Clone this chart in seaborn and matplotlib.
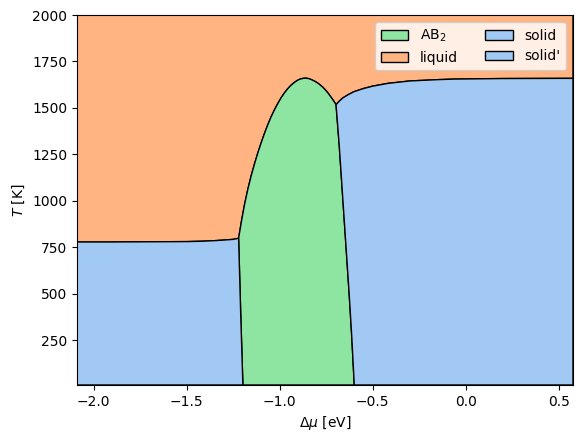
import matplotlib
matplotlib.use("Agg")
import numpy as np
import matplotlib.pyplot as plt
import seaborn as sns

# phase boundaries (dmu in eV, T in K)
x_min, x_max = -2.09, 0.577
t_min, t_max = 8, 2000

# solid / liquid line on the left
left_dmu = [-2.09, -1.9, -1.7, -1.5, -1.42, -1.35, -1.29, -1.25, -1.221]
left_T = [778, 778, 779, 780, 782, 785, 789, 792, 798]

# AB2 / liquid dome (left flank -> peak -> right triple point)
dome_dmu = [-1.221, -1.205, -1.189, -1.171, -1.153, -1.135, -1.118, -1.100,
            -1.082, -1.064, -1.046, -1.028, -1.010, -0.992, -0.975, -0.957,
            -0.939, -0.921, -0.905, -0.890, -0.874, -0.858,
            -0.842, -0.827, -0.811, -0.796, -0.782, -0.768, -0.755, -0.742,
            -0.730, -0.718, -0.707, -0.697]
dome_T = [798, 893, 980, 1063, 1136, 1200, 1256, 1311,
          1362, 1409, 1452, 1490, 1524, 1555, 1580, 1603,
          1622, 1637, 1648, 1655, 1659, 1660,
          1657, 1651, 1643, 1634, 1623, 1611, 1597, 1582,
          1566, 1549, 1533, 1517]

# AB2 / solid' line, top to bottom
right_wall_dmu = [-0.697, -0.680, -0.662, -0.644, -0.626, -0.613, -0.599]
right_wall_T = [1517, 1300, 1031, 762, 492, 277, t_min]

# AB2 / solid line, top to bottom
left_wall_dmu = [-1.221, -1.210, -1.198]
left_wall_T = [798, 400, t_min]

# solid' / liquid line
top_dmu = [-0.697, -0.68, -0.66, -0.63, -0.601, -0.55, -0.5, -0.418, -0.3,
           -0.15, -0.064, 0.2, 0.577]
top_T = [1517, 1536, 1554, 1572, 1587, 1604, 1617, 1632, 1645, 1652, 1655,
         1658, 1659]

pal = sns.color_palette("pastel")
c_blue, c_orange, c_green = pal[0], pal[1], pal[2]

fig, ax = plt.subplots(figsize=(5.82, 4.42))
fig.subplots_adjust(left=0.1323, right=0.9845, top=0.966, bottom=0.129)

# liquid
liq_x = [x_min] + left_dmu + dome_dmu + top_dmu + [x_max]
liq_y = [t_max] + left_T + dome_T + top_T + [t_max]
ax.fill(liq_x, liq_y, facecolor=c_orange, edgecolor="black", lw=1, label="liquid")

# AB2
ab_x = dome_dmu + right_wall_dmu[1:] + left_wall_dmu[::-1]
ab_y = dome_T + right_wall_T[1:] + left_wall_T[::-1]
ax.fill(ab_x, ab_y, facecolor=c_green, edgecolor="black", lw=1, label="AB$_2$")

# solid (left)
s_x = [x_min] + left_dmu + left_wall_dmu[1:] + [x_min]
s_y = [t_min] + left_T + left_wall_T[1:] + [t_min]
ax.fill(s_x, s_y, facecolor=c_blue, edgecolor="black", lw=1, label="solid")

# solid' (right)
s2_x = top_dmu + [x_max] + right_wall_dmu[::-1]
s2_y = top_T + [t_min] + right_wall_T[::-1]
ax.fill(s2_x, s2_y, facecolor=c_blue, edgecolor="black", lw=1, label="solid'")

h, l = ax.get_legend_handles_labels()
order = [l.index("AB$_2$"), l.index("liquid"), l.index("solid"), l.index("solid'")]
ax.legend([h[i] for i in order], [l[i] for i in order], ncol=2, loc="upper right")

ax.set_xlim(x_min, x_max)
ax.set_ylim(t_min, t_max)
ax.set_xlabel(r"$\Delta\mu$ [eV]")
ax.set_ylabel(r"$T$ [K]")

fig.savefig("out.png", dpi=100)
